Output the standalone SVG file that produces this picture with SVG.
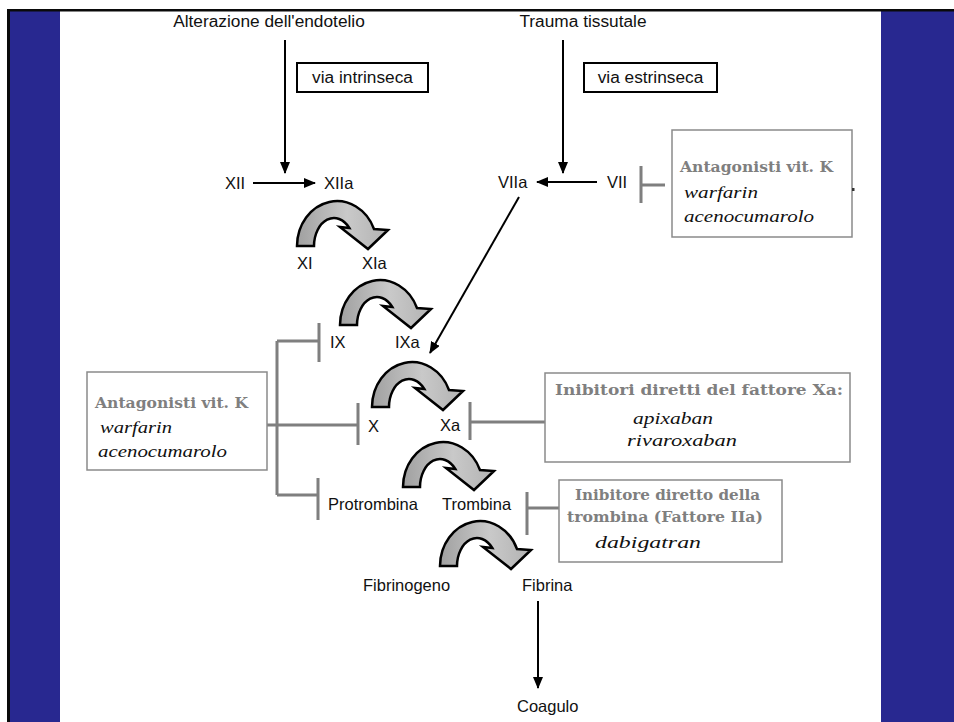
<svg xmlns="http://www.w3.org/2000/svg" width="954" height="722" viewBox="0 0 954 722">
<defs>
<style>
.lbl{font-family:"Liberation Sans",Arial,sans-serif;font-size:16.5px;fill:#111}
.ttl{font-family:"Liberation Sans",Arial,sans-serif;font-size:17.3px;fill:#111}
.bd{font-family:"DejaVu Serif","Liberation Serif",serif;font-weight:bold;font-size:15px;fill:#7f7f7f}
.it{font-family:"Liberation Serif","Times New Roman",serif;font-style:italic;font-size:17px;fill:#111}
.gbox{fill:#fff;stroke:#8a8a8a;stroke-width:1.5}
.kbox{fill:#fff;stroke:#000;stroke-width:2}
.ln{stroke:#000;stroke-width:2;fill:none}
.inh{stroke:#7f7f7f;stroke-width:3;fill:none}
.carrow{fill:url(#cg);stroke:#000;stroke-width:2.5;stroke-linejoin:miter}
</style>
<linearGradient id="cg" x1="0" y1="0" x2="1" y2="0">
<stop offset="0" stop-color="#a0a0a0"/>
<stop offset="0.55" stop-color="#c9c9c9"/>
<stop offset="1" stop-color="#b2b2b2"/>
</linearGradient>
<marker id="ah" markerWidth="12" markerHeight="10" refX="11" refY="5" orient="auto" markerUnits="userSpaceOnUse">
<path d="M0,0 L12,5 L0,10 Z" fill="#000"/>
</marker>
<path id="curv" d="M0,0 A40,45 0 0 1 77,-17 L91,-16 L71,3 L43,-19 L52.3,-18 A20,28 0 0 0 17,0 Z"/>
</defs>
<rect width="954" height="722" fill="#fff"/>
<g id="frame">
<rect x="10" y="11" width="50" height="711" fill="#282890"/>
<rect x="881" y="11" width="73" height="711" fill="#282890"/>
<rect x="7" y="9" width="947" height="2.5" fill="#0a0a0a"/>
<rect x="7" y="9" width="3" height="713" fill="#0a0a0a"/>
</g>
<g id="connectors">
<line class="ln" x1="285" y1="40" x2="285" y2="173" marker-end="url(#ah)"/>
<line class="ln" x1="563" y1="40" x2="563" y2="173" marker-end="url(#ah)"/>
<line class="ln" x1="253" y1="183" x2="315" y2="183" marker-end="url(#ah)"/>
<line class="ln" x1="597" y1="182" x2="537" y2="182" marker-end="url(#ah)"/>
<line class="ln" x1="519" y1="197" x2="430" y2="353" marker-end="url(#ah)"/>
<line class="ln" x1="538" y1="601" x2="538" y2="688" marker-end="url(#ah)"/>
<use href="#curv" class="carrow" x="297" y="246"/>
<use href="#curv" class="carrow" x="340" y="325"/>
<use href="#curv" class="carrow" x="372" y="407"/>
<use href="#curv" class="carrow" x="403" y="487"/>
<use href="#curv" class="carrow" x="440" y="566"/>
<path class="inh" d="M641,166 V203 M641,185 H665"/>
<path class="inh" d="M277,341 V495 M277,341 H319 M319,323 V362 M267,425 H358 M358,403 V445 M277,495 H318 M318,478 V520"/>
<path class="inh" d="M470,402 V440 M470,422 H545"/>
<path class="inh" d="M527,492 V535 M527,508 H559"/>
</g>
<g id="n-alterazione"><text class="ttl" x="269" y="27" text-anchor="middle">Alterazione dell'endotelio</text></g>
<g id="n-trauma"><text class="ttl" x="583" y="27" text-anchor="middle">Trauma tissutale</text></g>
<g id="n-intrinseca"><rect class="kbox" x="297" y="63" width="131" height="29"/><text class="ttl" x="362.5" y="83" text-anchor="middle">via intrinseca</text></g>
<g id="n-estrinseca"><rect class="kbox" x="584" y="63" width="133" height="29"/><text class="ttl" x="650.5" y="83" text-anchor="middle">via estrinseca</text></g>
<g id="n-XII"><text class="lbl" x="225" y="189">XII</text></g>
<g id="n-XIIa"><text class="lbl" x="324" y="189">XIIa</text></g>
<g id="n-VIIa"><text class="lbl" x="498" y="188">VIIa</text></g>
<g id="n-VII"><text class="lbl" x="607" y="188">VII</text></g>
<g id="n-XI"><text class="lbl" x="297" y="269">XI</text></g>
<g id="n-XIa"><text class="lbl" x="362" y="269">XIa</text></g>
<g id="n-IX"><text class="lbl" x="330" y="348">IX</text></g>
<g id="n-IXa"><text class="lbl" x="395" y="348">IXa</text></g>
<g id="n-X"><text class="lbl" x="368" y="432">X</text></g>
<g id="n-Xa"><text class="lbl" x="440" y="431">Xa</text></g>
<g id="n-protrombina"><text class="lbl" x="328" y="510">Protrombina</text></g>
<g id="n-trombina"><text class="lbl" x="442" y="510">Trombina</text></g>
<g id="n-fibrinogeno"><text class="lbl" x="363" y="591">Fibrinogeno</text></g>
<g id="n-fibrina"><text class="lbl" x="522" y="591">Fibrina</text></g>
<g id="n-coagulo"><text class="lbl" x="517" y="712">Coagulo</text></g>
<g id="n-antag-right">
<rect class="gbox" x="672" y="130" width="180" height="107"/>
<text class="bd" x="680" y="172" textLength="153" lengthAdjust="spacingAndGlyphs">Antagonisti vit. K</text>
<text class="it" x="684" y="198" textLength="74" lengthAdjust="spacingAndGlyphs">warfarin</text>
<text class="it" x="684" y="222" textLength="130" lengthAdjust="spacingAndGlyphs">acenocumarolo</text>
<rect x="852" y="188" width="2.5" height="3" fill="#333"/>
</g>
<g id="n-antag-left">
<rect class="gbox" x="87" y="372" width="180" height="98"/>
<text class="bd" x="95" y="408" textLength="153" lengthAdjust="spacingAndGlyphs">Antagonisti vit. K</text>
<text class="it" x="100" y="433" textLength="72" lengthAdjust="spacingAndGlyphs">warfarin</text>
<text class="it" x="98" y="457" textLength="129" lengthAdjust="spacingAndGlyphs">acenocumarolo</text>
</g>
<g id="n-inib-xa">
<rect class="gbox" x="545" y="373" width="305" height="89"/>
<text class="bd" x="555" y="395" textLength="288" lengthAdjust="spacingAndGlyphs">Inibitori diretti del fattore Xa:</text>
<text class="it" x="633" y="424" textLength="80" lengthAdjust="spacingAndGlyphs">apixaban</text>
<text class="it" x="627" y="446" textLength="110" lengthAdjust="spacingAndGlyphs">rivaroxaban</text>
</g>
<g id="n-inib-trombina">
<rect class="gbox" x="559" y="480" width="223" height="82"/>
<text class="bd" x="575" y="500" textLength="185" lengthAdjust="spacingAndGlyphs">Inibitore diretto della</text>
<text class="bd" x="567" y="522" textLength="196" lengthAdjust="spacingAndGlyphs">trombina (Fattore IIa)</text>
<text class="it" x="595" y="548" textLength="106" lengthAdjust="spacingAndGlyphs">dabigatran</text>
</g>
</svg>
